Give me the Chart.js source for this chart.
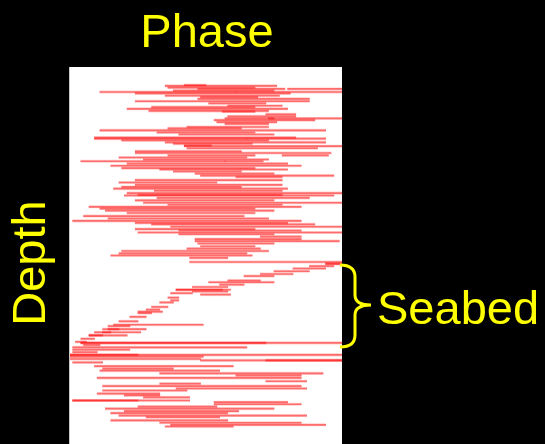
<!DOCTYPE html>
<html>
<head>
<meta charset="utf-8">
<script src="https://cdn.jsdelivr.net/npm/chart.js@4.4.1/dist/chart.umd.min.js"></script>
<style>
  html, body { margin: 0; padding: 0; background: #000; overflow: hidden; }
  #wrap { width: 545px; height: 444px; }
</style>
</head>
<body>
<div id="wrap"><canvas id="myChart" width="545" height="444"></canvas></div>
<script>
// depth of each trace segment (0 = top of section, 100 = bottom of view)
var depth = [
    0.3, 0.5, 1.0, 1.4, 1.4, 1.9, 2.3, 2.3, 2.7, 3.4, 3.8, 4.3, 5.0, 5.6, 6.3, 6.7, 7.2, 7.8, 8.0, 8.8,
    9.4, 10.0, 10.0, 10.5, 11.1, 11.6, 12.5, 12.9, 13.5, 14.1, 14.7, 15.6, 15.9, 15.9, 16.4, 17.0, 17.4, 17.9, 18.1, 18.7,
    19.6, 20.1, 20.8, 20.8, 21.4, 22.0, 22.5, 22.5, 23.2, 23.8, 24.5, 24.9, 25.5, 26.1, 26.7, 27.1, 28.0, 28.7, 29.4, 30.0,
    30.5, 31.1, 31.8, 32.3, 32.5, 33.2, 33.9, 34.6, 35.2, 35.8, 36.3, 36.9, 37.6, 38.5, 39.2, 39.9, 40.5, 40.9, 41.6, 42.3,
    42.7, 43.3, 43.8, 44.5, 45.2, 45.8, 46.5, 47.3, 48.0, 48.7, 49.4, 50.0, 50.7, 51.9, 52.3,
    // seabed reflection
    52.5, 53.1, 53.8, 54.6, 55.4, 56.0, 57.3, 57.8, 58.5, 59.2, 60.0, 60.0, 60.5, 61.0, 61.4, 62.3, 63.1, 63.7, 65.0, 65.8,
    66.4, 66.8, 67.9, 69.2, 70.2, 70.6, 71.5, 71.5, 72.4, 72.4, 73.3, 73.3, 74.3, 75.2,
    // below seabed
    75.5, 75.5, 76.1, 76.8, 77.5, 78.2, 79.0, 79.0, 79.5, 80.2, 80.6, 80.6, 81.2, 82.3, 83.0, 83.6, 84.4, 85.0, 85.7, 86.7,
    87.4, 88.1, 88.8, 89.4, 90.3, 90.8, 91.4, 92.3, 92.3, 92.8, 93.4, 94.1, 94.7, 95.4, 96.0, 96.7, 97.2, 98.1, 98.8, 99.4,
    99.9
];
// phase (fraction of a cycle) where each segment starts and ends
var phaseFrom = [
    0.42, 0.35, 0.36, 0.47, 0.80, 0.38, 0.11, 0.61, 0.24, 0.35, 0.48, 0.47, 0.24, 0.51, 0.58, 0.30, 0.21, 0.29, 0.56, 0.72,
    0.58, 0.57, 0.73, 0.53, 0.54, 0.57, 0.43, 0.36, 0.11, 0.32, 0.40, 0.09, 0.09, 0.65, 0.19, 0.35, 0.38, 0.42, 0.42, 0.43,
    0.24, 0.24, 0.36, 0.78, 0.18, 0.27, 0.04, 0.57, 0.21, 0.15, 0.19, 0.33, 0.38, 0.46, 0.48, 0.61, 0.24, 0.18, 0.24, 0.19,
    0.16, 0.31, 0.21, 0.25, 0.20, 0.32, 0.24, 0.27, 0.36, 0.07, 0.11, 0.13, 0.21, 0.05, 0.14, 0.01, 0.24, 0.30, 0.37, 0.24,
    0.40, 0.25, 0.40, 0.70, 0.46, 0.46, 0.47, 0.48, 0.43, 0.19, 0.18, 0.15, 0.44, 0.44, 0.94,
    0.94, 0.88, 0.82, 0.75, 0.70, 0.64, 0.58, 0.51, 0.55, 0.45, 0.39, 0.39, 0.45, 0.37, 0.48, 0.36, 0.37, 0.33, 0.30, 0.28,
    0.25, 0.25, 0.22, 0.18, 0.16, 0.14, 0.12, 0.14, 0.09, 0.12, 0.07, 0.07, 0.04, 0.02,
    0.04, 0.04, 0.05, 0.01, 0.01, 0.01, 0.00, 0.00, 0.00, 0.00, 0.48, 0.72, 0.01, 0.09, 0.12, 0.11, 0.33, 0.61, 0.10, 0.72,
    0.33, 0.12, 0.39, 0.12, 0.10, 0.20, 0.27, 0.01, 0.01, 0.53, 0.53, 0.25, 0.13, 0.20, 0.15, 0.18, 0.28, 0.15, 0.33, 0.37,
    0.35
];
var phaseTo = [
    0.50, 0.76, 0.68, 0.79, 1.00, 0.75, 0.61, 1.00, 0.81, 0.77, 0.69, 0.88, 0.88, 0.72, 0.78, 0.68, 0.80, 0.73, 0.68, 0.83,
    0.83, 0.75, 1.00, 0.90, 0.76, 0.73, 0.73, 0.63, 0.94, 0.68, 0.75, 0.83, 0.65, 0.94, 0.73, 0.94, 0.67, 0.52, 1.00, 0.91,
    0.63, 0.96, 0.68, 0.95, 0.65, 0.73, 0.57, 0.71, 0.80, 0.85, 0.68, 0.80, 0.63, 0.75, 0.97, 0.78, 0.78, 0.54, 0.78, 0.63,
    0.80, 0.78, 1.00, 0.78, 0.97, 0.88, 0.75, 1.00, 0.78, 0.85, 0.68, 0.75, 0.68, 0.64, 0.73, 0.85, 0.80, 0.90, 1.00, 0.68,
    0.85, 1.00, 0.75, 0.85, 0.85, 0.99, 0.75, 0.68, 0.70, 0.73, 0.65, 0.67, 0.58, 1.00, 1.00,
    1.00, 0.97, 0.94, 0.88, 0.82, 0.75, 0.70, 0.75, 0.64, 0.58, 0.56, 0.59, 0.58, 0.45, 0.59, 0.40, 0.40, 0.38, 0.36, 0.33,
    0.34, 0.30, 0.28, 0.25, 0.49, 0.22, 0.18, 0.28, 0.15, 0.26, 0.12, 0.21, 0.09, 0.06,
    1.00, 0.72, 0.11, 0.65, 0.22, 0.10, 1.00, 0.25, 0.49, 0.48, 1.00, 1.00, 0.12, 0.60, 0.38, 0.55, 0.93, 0.85, 0.85, 0.87,
    0.48, 0.85, 0.87, 0.43, 0.33, 0.33, 0.44, 0.44, 0.25, 0.80, 0.85, 0.54, 0.75, 0.62, 0.58, 0.87, 0.55, 0.58, 0.85, 0.94,
    0.60
];

var segments = depth.map(function (d, i) {
    return { y: d, x: [phaseFrom[i], phaseTo[i]] };
});

var frame = {
    id: "frame",
    beforeDraw: function (chart) {
        var ctx = chart.ctx, a = chart.chartArea;
        ctx.save();
        ctx.fillStyle = "#000";
        ctx.fillRect(0, 0, chart.width, chart.height);
        ctx.fillStyle = "#fff";
        ctx.fillRect(a.left, a.top, a.right - a.left, a.bottom - a.top);
        ctx.fillStyle = "#c8c8c8";
        ctx.fillRect(a.left - 1, a.top, 1, a.bottom - a.top);
        ctx.restore();
    },
    afterDraw: function (chart) {
        var ctx = chart.ctx;
        ctx.save();
        ctx.fillStyle = "#ffff00";
        ctx.font = "47px 'Liberation Sans', Arial, sans-serif";
        ctx.textBaseline = "alphabetic";
        ctx.textAlign = "center";
        ctx.fillText("Phase", 207, 47);

        ctx.save();
        ctx.translate(45, 263);
        ctx.rotate(-Math.PI / 2);
        ctx.fillText("Depth", 0, 0);
        ctx.restore();

        ctx.textAlign = "left";
        ctx.fillText("Seabed", 377, 324);

        // curly brace spanning the seabed reflection
        ctx.strokeStyle = "#ffff00";
        ctx.lineWidth = 3;
        ctx.beginPath();
        ctx.moveTo(340, 265);
        ctx.quadraticCurveTo(355, 265, 355, 277);
        ctx.lineTo(355, 295);
        ctx.quadraticCurveTo(355, 305, 371, 305);
        ctx.quadraticCurveTo(355, 305, 355, 315);
        ctx.lineTo(355, 335);
        ctx.quadraticCurveTo(355, 347, 340, 347);
        ctx.stroke();
        ctx.restore();
    }
};

window.onload = function () {
    var ctx = document.getElementById("myChart").getContext("2d");
    new Chart(ctx, {
        type: "bar",
        data: {
            datasets: [{
                data: segments,
                backgroundColor: "rgba(255, 40, 40, 0.22)",
                borderWidth: 0,
                barThickness: 2.4,
                grouped: false
            }, {
                data: segments,
                backgroundColor: "rgba(255, 0, 0, 0.5)",
                borderWidth: 0,
                barThickness: 1,
                grouped: false
            }]
        },
        options: {
            indexAxis: "y",
            responsive: false,
            animation: false,
            layout: { padding: { left: 70, top: 67, right: 203, bottom: 0 } },
            scales: {
                x: { type: "linear", min: 0, max: 1, display: false },
                y: { type: "linear", min: 0, max: 100, reverse: true, display: false }
            },
            plugins: {
                legend: { display: false },
                tooltip: { enabled: false }
            }
        },
        plugins: [frame]
    });
};
</script>
</body>
</html>
